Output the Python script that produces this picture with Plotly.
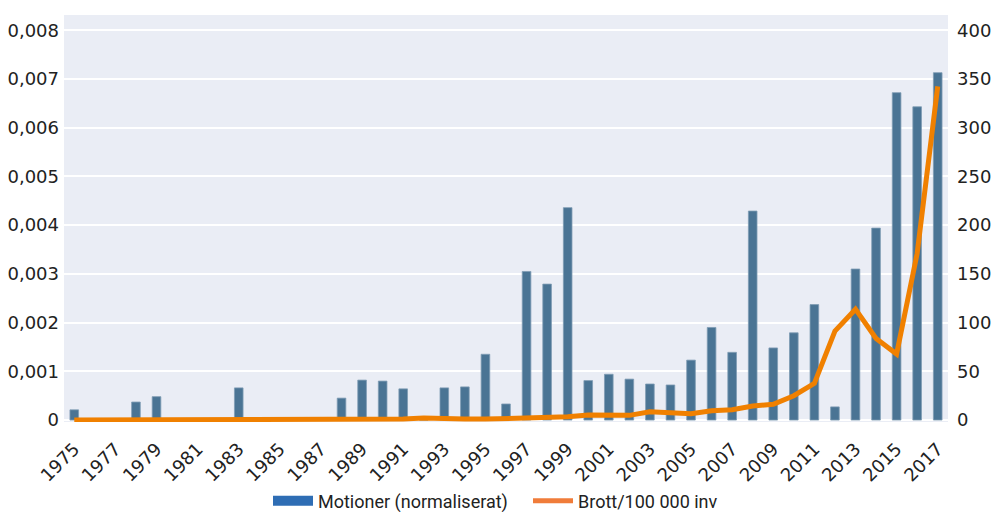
import plotly.graph_objects as go

years = list(range(1975, 2018))
motioner = [0.00021, 0, 0, 0.00037, 0.00048, 0, 0, 0, 0.00066, 0, 0, 0, 0,
            0.00045, 0.00082, 0.00080, 0.00064, 0, 0.00066, 0.00068, 0.00135,
            0.00033, 0.00305, 0.00279, 0.00436, 0.00081, 0.00094, 0.00084,
            0.00074, 0.00072, 0.00123, 0.00190, 0.00139, 0.00429, 0.00148,
            0.00179, 0.00237, 0.00027, 0.00310, 0.00394, 0.00672, 0.00643,
            0.00713]
brott = [0, 0, 0, 0, 0, 0, 0, 0, 0, 0, 0, 0, 0,
         0.5, 1, 1, 1, 2, 1, 1, 1,
         1.5, 1.7, 2.4, 3.4, 5.1, 5, 4.8,
         8.5, 7.9, 6.5, 9.5, 10.6, 14.4, 16.1,
         25, 37.6, 91.3, 113.8, 83.8, 67.7, 171,
         342.5]

left_vals = [0, 0.001, 0.002, 0.003, 0.004, 0.005, 0.006, 0.007, 0.008]
left_text = ["0", "0,001", "0,002", "0,003", "0,004", "0,005", "0,006", "0,007", "0,008"]
right_vals = [0, 50, 100, 150, 200, 250, 300, 350, 400]
x_ticks = list(range(1975, 2018, 2))

name_bar = "Motioner (normaliserat)"
name_line = "Brott/100 000 inv"

fig = go.Figure()
fig.add_trace(go.Bar(x=years, y=motioner, marker=dict(color="#4A7494", line=dict(color="#7F9CB4", width=0.8)),
                     width=0.42, showlegend=False, name=name_bar))
fig.add_trace(go.Scatter(x=years, y=brott, yaxis="y2", mode="lines",
                         line=dict(color="#F08000", width=5), showlegend=False, name=name_line))
# legend entries
fig.add_trace(go.Scatter(x=[None], y=[None], mode="lines", line=dict(color="#2E6DB4", width=12), name=name_bar))
fig.add_trace(go.Scatter(x=[None], y=[None], mode="lines", line=dict(color="#F07C3A", width=5), name=name_line))

ymin, ymax = -0.00004, 0.008314
fig.update_layout(
    width=993, height=512,
    margin=dict(l=64, r=45, t=15, b=90),
    paper_bgcolor="white",
    plot_bgcolor="#EAEDF5",
    font=dict(family="DejaVu Sans", size=18, color="#222222"),
    xaxis=dict(range=[1974.5, 2017.5], tickvals=x_ticks, ticktext=[str(v) for v in x_ticks],
               tickangle=-45, showgrid=False, zeroline=False, ticks="", tickfont=dict(size=18),
               automargin=False, ticklabelstandoff=12),
    yaxis=dict(range=[ymin, ymax], tickvals=left_vals, ticktext=left_text, showgrid=True,
               gridcolor="white", gridwidth=2, zeroline=False, ticks="", ticklabelstandoff=4,
               automargin=False),
    yaxis2=dict(range=[ymin * 50000, ymax * 50000], tickvals=right_vals, overlaying="y", side="right",
                showgrid=False, zeroline=False, ticks="", ticklabelstandoff=8, automargin=False),
    legend=dict(orientation="h", xref="container", x=268 / 993, xanchor="left",
                yref="container", y=11 / 512, yanchor="middle", entrywidth=205, entrywidthmode="pixels",
                font=dict(family="Roboto", size=18, color="#222222"), itemwidth=40, bgcolor="rgba(0,0,0,0)"),
)
fig.write_html("out.html", config={"displayModeBar": False},
               post_script="document.body.style.margin='0';document.body.style.overflow='hidden';")
